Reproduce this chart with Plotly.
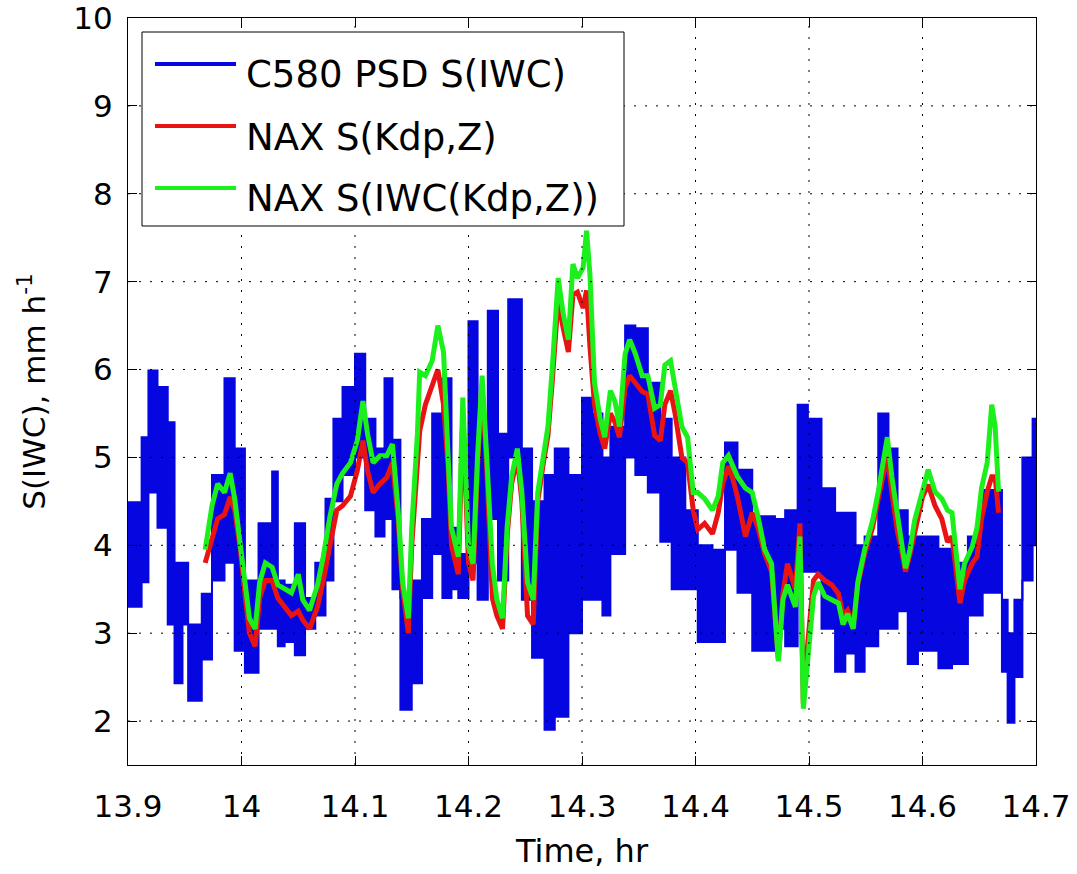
import plotly.graph_objects as go

# C580 particle-size-distribution snowfall rate: upper and lower envelope of the
# rapidly oscillating record, held constant (step) from each time to the next
blue_time = [13.900, 13.912, 13.918, 13.926, 13.935, 13.941, 13.948, 13.953, 13.965, 13.974,
             13.985, 13.994, 14.003, 14.015, 14.027, 14.032, 14.038, 14.047, 14.056, 14.065,
             14.074, 14.081, 14.089, 14.100, 14.109, 14.118, 14.126, 14.133, 14.140, 14.150,
             14.159, 14.168, 14.177, 14.185, 14.191, 14.200, 14.208, 14.217, 14.226, 14.235,
             14.247, 14.256, 14.267, 14.276, 14.288, 14.300, 14.309, 14.318, 14.325, 14.338,
             14.347, 14.358, 14.369, 14.379, 14.391, 14.402, 14.415, 14.426, 14.437, 14.450,
             14.470, 14.479, 14.490, 14.499, 14.511, 14.523, 14.532, 14.541, 14.549, 14.561,
             14.570, 14.578, 14.587, 14.596, 14.614, 14.626, 14.640, 14.653, 14.670, 14.675,
             14.681, 14.688, 14.697, 14.700]
blue_high = [4.49, 5.23, 5.99, 5.80, 5.40, 3.80, 3.80, 3.10, 3.45, 4.80,
             5.90, 5.10, 3.60, 4.25, 4.84, 3.60, 3.55, 4.25, 3.40, 3.80,
             4.53, 5.44, 5.80, 6.18, 5.44, 5.10, 5.90, 5.20, 3.40, 3.60,
             4.30, 5.50, 5.90, 4.20, 3.90, 6.55, 5.44, 6.67, 5.27, 6.80,
             5.10, 4.50, 4.80, 5.10, 4.80, 5.68, 5.50, 5.00, 5.35, 6.50,
             6.47, 5.85, 5.44, 5.00, 4.40, 4.00, 3.95, 5.17, 4.86, 4.33,
             4.30, 4.40, 5.60, 5.44, 4.65, 4.37, 4.37, 4.00, 4.10, 5.50,
             5.10, 4.40, 4.10, 4.10, 3.96, 3.80, 4.10, 4.63, 3.38, 3.00,
             3.38, 5.00, 5.44, 5.44]
blue_low = [3.30, 3.58, 4.60, 4.20, 3.10, 2.43, 3.10, 2.23, 2.70, 3.60,
            3.80, 2.80, 2.55, 3.05, 3.05, 2.85, 2.90, 2.75, 3.05, 3.20,
            3.60, 4.50, 4.80, 5.00, 4.40, 4.10, 4.30, 3.50, 2.13, 2.43,
            3.40, 3.90, 3.40, 3.50, 3.40, 3.80, 3.38, 4.30, 3.60, 5.00,
            3.38, 2.72, 1.90, 2.05, 3.00, 3.38, 3.38, 3.20, 3.90, 5.00,
            4.80, 4.60, 4.04, 3.50, 3.50, 2.90, 2.90, 3.95, 3.46, 2.80,
            3.05, 2.85, 3.70, 3.70, 3.05, 2.56, 2.77, 2.56, 2.85, 3.05,
            3.05, 3.25, 2.65, 2.80, 2.60, 2.65, 3.20, 3.46, 2.56, 1.98,
            2.50, 3.60, 4.00, 4.00]

# NAX radar retrievals
nax_time = [13.968, 13.974, 13.979, 13.985, 13.990, 13.994, 13.999, 14.003, 14.007, 14.012,
            14.016, 14.021, 14.027, 14.032, 14.038, 14.044, 14.050, 14.054, 14.060, 14.067,
            14.072, 14.078, 14.084, 14.089, 14.096, 14.102, 14.107, 14.111, 14.116, 14.122,
            14.128, 14.133, 14.138, 14.142, 14.147, 14.150, 14.155, 14.157, 14.162, 14.168,
            14.173, 14.178, 14.182, 14.185, 14.191, 14.195, 14.200, 14.204, 14.208, 14.212,
            14.216, 14.221, 14.225, 14.230, 14.234, 14.238, 14.243, 14.247, 14.252, 14.257,
            14.261, 14.266, 14.270, 14.274, 14.279, 14.283, 14.288, 14.292, 14.296, 14.301,
            14.304, 14.307, 14.311, 14.316, 14.320, 14.325, 14.329, 14.333, 14.338, 14.342,
            14.347, 14.353, 14.358, 14.364, 14.369, 14.373, 14.378, 14.382, 14.388, 14.393,
            14.398, 14.402, 14.408, 14.415, 14.420, 14.424, 14.429, 14.433, 14.437, 14.444,
            14.450, 14.455, 14.461, 14.467, 14.473, 14.477, 14.481, 14.488, 14.492, 14.495,
            14.499, 14.504, 14.508, 14.514, 14.520, 14.526, 14.530, 14.534, 14.539, 14.543,
            14.549, 14.556, 14.561, 14.565, 14.569, 14.573, 14.578, 14.582, 14.585, 14.589,
            14.593, 14.600, 14.605, 14.611, 14.617, 14.622, 14.626, 14.630, 14.633, 14.637,
            14.644, 14.648, 14.652, 14.657, 14.661, 14.664, 14.667]
nax_s_kdp_z = [3.80, 4.10, 4.30, 4.35, 4.55, 4.40, 3.95, 3.45, 3.00, 2.85,
               3.40, 3.60, 3.60, 3.40, 3.30, 3.20, 3.25, 3.15, 3.05, 3.30,
               3.60, 4.00, 4.40, 4.45, 4.56, 4.85, 5.19, 4.85, 4.60, 4.70,
               4.77, 4.94, 4.30, 3.50, 3.00, 4.00, 5.10, 5.30, 5.60, 5.80,
               6.00, 5.60, 4.90, 4.00, 3.67, 5.50, 3.80, 3.60, 4.90, 5.80,
               4.90, 3.40, 3.20, 3.05, 4.10, 4.70, 5.00, 4.50, 3.20, 3.10,
               4.50, 4.94, 5.25, 5.90, 6.80, 6.50, 6.20, 6.85, 6.88, 6.70,
               6.90, 6.26, 5.60, 5.27, 5.10, 5.50, 5.40, 5.23, 5.80, 5.93,
               5.85, 5.75, 5.72, 5.25, 5.19, 5.60, 5.76, 5.50, 5.00, 4.94,
               4.40, 4.18, 4.25, 4.13, 4.37, 4.70, 4.90, 4.75, 4.55, 4.10,
               4.37, 4.20, 3.90, 3.70, 2.70, 3.45, 3.79, 3.50, 4.25, 2.20,
               2.90, 3.60, 3.67, 3.60, 3.55, 3.45, 3.20, 3.26, 3.10, 3.55,
               3.90, 4.20, 4.53, 4.80, 5.02, 4.60, 4.15, 3.91, 3.70, 3.90,
               4.15, 4.55, 4.69, 4.45, 4.30, 4.04, 4.10, 3.70, 3.34, 3.60,
               3.80, 3.87, 4.30, 4.61, 4.78, 4.78, 4.37]
nax_s_iwc = [3.95, 4.45, 4.70, 4.60, 4.82, 4.53, 4.00, 3.55, 3.17, 3.05,
             3.58, 3.80, 3.75, 3.55, 3.50, 3.46, 3.67, 3.38, 3.26, 3.55,
             3.87, 4.33, 4.70, 4.82, 4.94, 5.19, 5.64, 5.27, 4.94, 5.02,
             5.02, 5.15, 4.40, 3.58, 3.17, 4.20, 5.27, 5.97, 5.93, 6.10,
             6.50, 6.20, 5.02, 4.20, 3.87, 5.68, 3.99, 3.79, 5.02, 5.93,
             5.02, 3.79, 3.38, 3.17, 4.20, 4.78, 5.10, 4.60, 3.58, 3.38,
             4.60, 5.06, 5.35, 6.05, 7.04, 6.67, 6.34, 7.20, 7.04, 7.16,
             7.58, 7.08, 5.85, 5.44, 5.23, 5.76, 5.64, 5.35, 6.18, 6.34,
             6.18, 5.93, 5.93, 5.56, 5.60, 6.05, 6.10, 5.80, 5.35, 5.23,
             4.60, 4.60, 4.53, 4.40, 4.56, 4.94, 5.02, 4.90, 4.78, 4.65,
             4.60, 4.33, 3.95, 3.79, 2.68, 3.38, 3.55, 3.30, 4.10, 2.14,
             2.76, 3.42, 3.58, 3.42, 3.38, 3.34, 3.10, 3.22, 3.05, 3.58,
             3.95, 4.28, 4.61, 4.94, 5.23, 4.78, 4.28, 3.99, 3.74, 3.95,
             4.28, 4.65, 4.86, 4.61, 4.53, 4.40, 4.37, 3.87, 3.50, 3.79,
             3.99, 4.20, 4.65, 4.94, 5.60, 5.35, 4.61]

series_names = ["C580 PSD S(IWC)", "NAX S(Kdp,Z)", "NAX S(IWC(Kdp,Z))"]
series_colors = ["#0606e0", "#e81414", "#1cf01c"]

x_ticks = [13.9, 14.0, 14.1, 14.2, 14.3, 14.4, 14.5, 14.6, 14.7]
x_tick_labels = ["13.9", "14", "14.1", "14.2", "14.3", "14.4", "14.5", "14.6", "14.7"]
y_ticks = [2, 3, 4, 5, 6, 7, 8, 9, 10]
y_tick_labels = ["2", "3", "4", "5", "6", "7", "8", "9", "10"]
x_range = [13.9, 14.7]
y_range = [1.5, 10]

FONT = "DejaVu Sans"
W, H = 1077, 874
M_L, M_R, M_T, M_B = 128, 41, 18, 109

fig = go.Figure()

# blue band: lower envelope first, then upper envelope filled down to it
fig.add_trace(go.Scatter(
    x=blue_time, y=blue_low, mode="lines", line=dict(color=series_colors[0], width=2, shape="hv"),
    showlegend=False, hoverinfo="skip"))
fig.add_trace(go.Scatter(
    x=blue_time, y=blue_high, mode="lines", line=dict(color=series_colors[0], width=2, shape="hv"),
    fill="tonexty", fillcolor=series_colors[0], name=series_names[0], showlegend=False))
fig.add_trace(go.Scatter(
    x=nax_time, y=nax_s_kdp_z, mode="lines", line=dict(color=series_colors[1], width=5),
    name=series_names[1], showlegend=False))
fig.add_trace(go.Scatter(
    x=nax_time, y=nax_s_iwc, mode="lines", line=dict(color=series_colors[2], width=5),
    name=series_names[2], showlegend=False))

shapes = []
# dotted grid drawn over the data
for xv in x_ticks[1:-1]:
    shapes.append(dict(type="line", xref="x", yref="y", x0=xv, x1=xv, y0=y_range[0], y1=y_range[1],
                       line=dict(color="black", width=1, dash="2px,9px"), layer="above"))
for yv in y_ticks[:-1]:
    shapes.append(dict(type="line", xref="x", yref="y", x0=x_range[0], x1=x_range[1], y0=yv, y1=yv,
                       line=dict(color="black", width=1, dash="2px,9px"), layer="above"))

# legend box
pw = W - M_L - M_R
ph = H - M_T - M_B
def px_x(p):
    return (p - M_L) / pw
def px_y(p):
    return (H - M_B - p) / ph

shapes.append(dict(type="rect", xref="paper", yref="paper",
                   x0=px_x(142), x1=px_x(624), y0=px_y(226), y1=px_y(32),
                   line=dict(color="black", width=1), fillcolor="white", layer="above"))
annotations = []
line_rows = [64, 126, 188]
text_rows = [74, 137, 198]
for name, color, ly, ty in zip(series_names, series_colors, line_rows, text_rows):
    shapes.append(dict(type="line", xref="paper", yref="paper",
                       x0=px_x(155), x1=px_x(236), y0=px_y(ly), y1=px_y(ly),
                       line=dict(color=color, width=4), layer="above"))
    annotations.append(dict(xref="paper", yref="paper", x=px_x(244), y=px_y(ty),
                            xanchor="left", yanchor="middle", text=name, showarrow=False,
                            font=dict(family=FONT, size=37, color="black")))

axis_common = dict(showline=True, linecolor="black", linewidth=1, mirror="ticks",
                   ticks="inside", ticklen=9, tickwidth=1, tickcolor="black",
                   showgrid=False, zeroline=False, layer="above traces",
                   ticklabeloverflow="allow",
                   tickfont=dict(family=FONT, size=31, color="black"))

fig.update_layout(
    width=W, height=H,
    margin=dict(l=M_L, r=M_R, t=M_T, b=M_B, autoexpand=False),
    paper_bgcolor="white", plot_bgcolor="white",
    showlegend=False,
    shapes=shapes, annotations=annotations,
    xaxis=dict(range=x_range, tickvals=x_ticks, ticktext=x_tick_labels,
               ticklabelstandoff=14,
               title=dict(text="Time, hr", font=dict(family=FONT, size=32, color="black"), standoff=16),
               **axis_common),
    yaxis=dict(range=y_range, tickvals=y_ticks, ticktext=y_tick_labels,
               ticklabelstandoff=8,
               title=dict(text="S(IWC), mm h<sup>-1</sup>", font=dict(family=FONT, size=31, color="black"),
                          standoff=18),
               **axis_common),
)

fig.write_html("out.html")
